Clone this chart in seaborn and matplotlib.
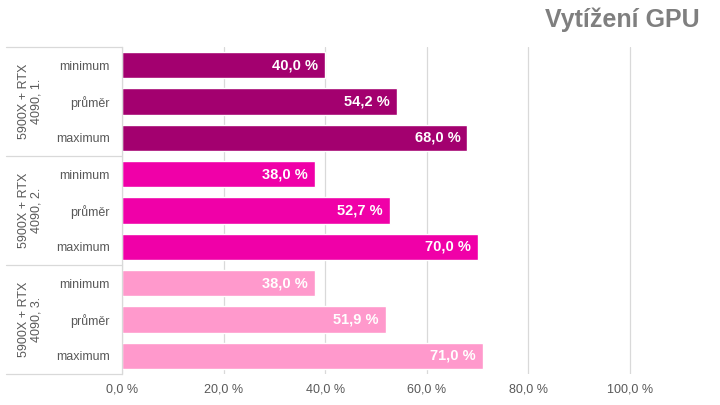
import matplotlib
matplotlib.use("Agg")
import matplotlib.pyplot as plt
import matplotlib.transforms as mtransforms
import seaborn as sns
import pandas as pd

groups = ["5900X + RTX\n4090, 1.", "5900X + RTX\n4090, 2.", "5900X + RTX\n4090, 3."]
categories = ["minimum", "průměr", "maximum"]
values_g1 = [40.0, 54.2, 68.0]
values_g2 = [38.0, 52.7, 70.0]
values_g3 = [38.0, 51.9, 71.0]
colors = ["#A3006F", "#F000A8", "#FF99CC"]
tick_values = [0, 20, 40, 60, 80, 100]
title = "Vytížení GPU"

rows = []
for g, vals in zip(groups, [values_g1, values_g2, values_g3]):
    for c, v in zip(categories, vals):
        rows.append({"row": f"{g}|{c}", "group": g, "cat": c, "value": v})
df = pd.DataFrame(rows)

sns.set_theme(style="white")
plt.rcParams["font.family"] = ["Liberation Sans", "DejaVu Sans"]

fig = plt.figure(figsize=(7.2, 4.05), dpi=100)
ax = fig.add_axes([122 / 720, 1 - 374 / 405, (701 - 122) / 720, (374 - 47) / 405])

sns.barplot(data=df, y="row", x="value", hue="group", palette=colors, dodge=False,
            orient="h", width=0.72, ax=ax, legend=False, saturation=1)

ax.set_xlim(0, 114)
ax.set_ylim(8.5, -0.5)
ax.set_xticks(tick_values)
ax.set_xticklabels([f"{t:.1f} %".replace(".", ",") for t in tick_values],
                   fontsize=9, color="#595959")
ax.set_yticks(range(len(df)))
ax.set_yticklabels(df["cat"], fontsize=9, color="#595959")
ax.tick_params(axis="y", length=0, pad=9)
ax.tick_params(axis="x", length=0, pad=7)
ax.set_xlabel("")
ax.set_ylabel("")
ax.grid(axis="x", color="#D9D9D9", linewidth=0.9)
ax.set_axisbelow(True)
for s in ["top", "right", "bottom"]:
    ax.spines[s].set_visible(False)
ax.spines["left"].set_color("#D9D9D9")
ax.spines["left"].set_linewidth(0.9)

# value labels
for i, r in df.iterrows():
    ax.text(r["value"] - 1.4, i, f"{r['value']:.1f} %".replace(".", ","),
            ha="right", va="center", color="white", fontsize=10.5, fontweight="bold")

# group separators and labels
trans = mtransforms.blended_transform_factory(fig.transFigure, ax.transData)
for yb in [-0.5, 2.5, 5.5, 8.5]:
    ax.plot([6 / 720, 122 / 720], [yb, yb], transform=trans, color="#D9D9D9",
            linewidth=0.9, clip_on=False)
for gi, g in enumerate(groups):
    ax.text(30 / 720, gi * 3 + 1, g, transform=trans, rotation=90, ha="center",
            va="center", fontsize=9, color="#595959", multialignment="center",
            linespacing=1.1)

fig.text(700 / 720, 1 - 20 / 405, title, ha="right", va="center", fontsize=18,
         fontweight="bold", color="#7F7F7F")

fig.savefig("out.png", dpi=100)
